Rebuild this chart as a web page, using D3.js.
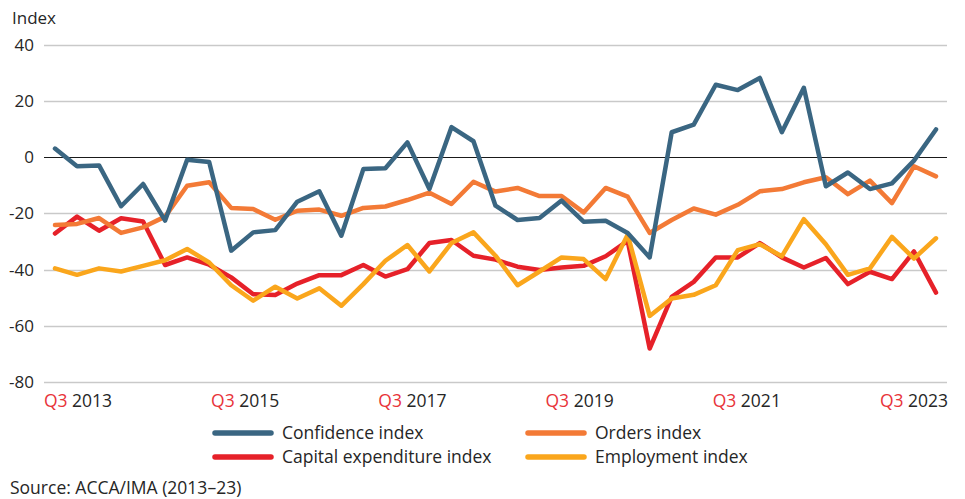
<!DOCTYPE html>
<html>
<head>
<meta charset="utf-8">
<script src="https://cdn.jsdelivr.net/npm/d3@7"></script>
<style>
  html, body { margin: 0; padding: 0; background: #fff; }
  svg { display: block; font-family: "Open Sans", Lato, sans-serif; }
</style>
</head>
<body>
<div id="chart"></div>
<script>
// quarterly readings, Q3 2013 .. Q3 2023
var quarters = d3.range(41);

var confidence = [3, -3.3, -3, -17.5, -9.6, -22.6, -1, -1.8, -33.3, -26.8,
  -26, -15.9, -12.2, -28, -4.3, -4, 5.2, -11.4, 10.6, 5.6,
  -17.3, -22.4, -21.7, -15.5, -23, -22.7, -27, -35.7, 8.8, 11.5,
  25.7, 23.8, 28.1, 8.8, 24.6, -10.4, -5.5, -11.4, -9.4, -1.3, 9.8];

var orders = [-24.2, -23.8, -21.7, -27, -25, -21.2, -10.2, -9, -18.1, -18.5,
  -22.3, -19.1, -18.7, -20.9, -18.1, -17.6, -15.3, -12.7, -16.7, -8.8,
  -12.3, -11, -13.9, -13.9, -19.7, -11, -14.1, -27, -22.4, -18.3,
  -20.5, -17, -12.2, -11.4, -9, -7.2, -13.2, -8.4, -16.4, -3.3, -6.9];

var capex = [-27.2, -21.2, -26.2, -21.8, -22.9, -38.4, -35.7, -38.3, -42.8, -48.8,
  -49.1, -45, -42, -42, -38.4, -42.5, -39.9, -30.6, -29.5, -35.1,
  -36.5, -39, -40.2, -39.3, -38.7, -35.3, -29.8, -68.1, -49.7, -44.4,
  -35.7, -35.7, -30.6, -35.7, -39.3, -35.9, -45.2, -40.8, -43.4, -33.6, -48.2];

var employment = [-39.6, -41.9, -39.6, -40.7, -38.7, -36.7, -32.7, -37.5, -45.6, -51.1,
  -46.1, -50.3, -46.7, -52.9, -45.2, -36.9, -31.3, -40.7, -30.6, -26.8,
  -35.1, -45.6, -40.7, -35.7, -36.3, -43.4, -27.6, -56.5, -50.3, -49,
  -45.6, -33.1, -31, -35.3, -22.1, -31, -41.9, -39.6, -28.4, -36.1, -28.9];

var yTicks = [40, 20, 0, -20, -40, -60, -80];
var xTickYears = ['2013', '2015', '2017', '2019', '2021', '2023'];

var series = [
  { name: 'Capital expenditure index', values: capex, color: '#e62129' },
  { name: 'Employment index', values: employment, color: '#faa61c' },
  { name: 'Orders index', values: orders, color: '#f37a36' },
  { name: 'Confidence index', values: confidence, color: '#3a6682' }
];
var legendOrder = ['Confidence index', 'Orders index', 'Capital expenditure index', 'Employment index'];

var W = 965, H = 499;
var gridLeft = 44, gridRight = 947;
var ink = '#262626';

var svg = d3.select('#chart').append('svg')
  .attr('width', W).attr('height', H);

var x = d3.scaleLinear().domain([0, 40]).range([55, 936]);
var y = d3.scaleLinear().domain([-80, 40]).range([382, 44.5]);
var xLab = d3.scalePoint().domain(xTickYears).range([78, 914]);

// grid
svg.append('g').selectAll('line').data(yTicks).join('line')
  .attr('x1', gridLeft).attr('x2', gridRight)
  .attr('y1', function (d) { return Math.round(y(d)) + 0.5; })
  .attr('y2', function (d) { return Math.round(y(d)) + 0.5; })
  .attr('stroke', function (d) { return d === 0 ? '#1a1a1a' : '#c9c9c9'; })
  .attr('stroke-width', function (d) { return d === 0 ? 1.2 : 1.4; });

svg.append('g').selectAll('text').data(yTicks).join('text')
  .attr('x', 34).attr('y', function (d) { return y(d); })
  .attr('dy', '0.36em')
  .attr('text-anchor', 'end')
  .attr('font-size', 17)
  .attr('fill', ink)
  .text(function (d) { return d; });

svg.append('text')
  .attr('x', 12).attr('y', 24)
  .attr('font-size', 17)
  .attr('fill', ink)
  .text('Index');

// x labels
var xl = svg.append('g').selectAll('text').data(xTickYears).join('text')
  .attr('x', function (d) { return xLab(d); })
  .attr('y', 407)
  .attr('text-anchor', 'middle')
  .attr('font-size', 17.5)
  .attr('fill', ink);
xl.append('tspan').attr('fill', '#e8343a').text('Q3');
xl.append('tspan').text(function (d) { return '\u00a0' + d; });

// lines
var line = d3.line()
  .x(function (d, i) { return x(quarters[i]); })
  .y(function (d) { return y(d); });

svg.append('g').selectAll('path').data(series).join('path')
  .attr('d', function (d) { return line(d.values); })
  .attr('fill', 'none')
  .attr('stroke', function (d) { return d.color; })
  .attr('stroke-width', 4.5)
  .attr('stroke-linejoin', 'round')
  .attr('stroke-linecap', 'round');

// legend
var byName = {};
series.forEach(function (s) { byName[s.name] = s; });
var leg = svg.append('g').selectAll('g').data(legendOrder).join('g')
  .attr('transform', function (d, i) {
    return 'translate(' + (i % 2 ? 528 : 215) + ',' + (433 + Math.floor(i / 2) * 24) + ')';
  });
leg.append('line')
  .attr('x1', 0).attr('x2', 56)
  .attr('stroke', function (d) { return byName[d].color; })
  .attr('stroke-width', 5.5)
  .attr('stroke-linecap', 'round');
leg.append('text')
  .attr('x', 67).attr('dy', '0.35em')
  .attr('font-size', 17.5)
  .attr('fill', ink)
  .text(function (d) { return d; });

svg.append('text')
  .attr('x', 10).attr('y', 494)
  .attr('font-size', 17.5)
  .attr('fill', ink)
  .text('Source: ACCA/IMA (2013\u201323)');
</script>
</body>
</html>
